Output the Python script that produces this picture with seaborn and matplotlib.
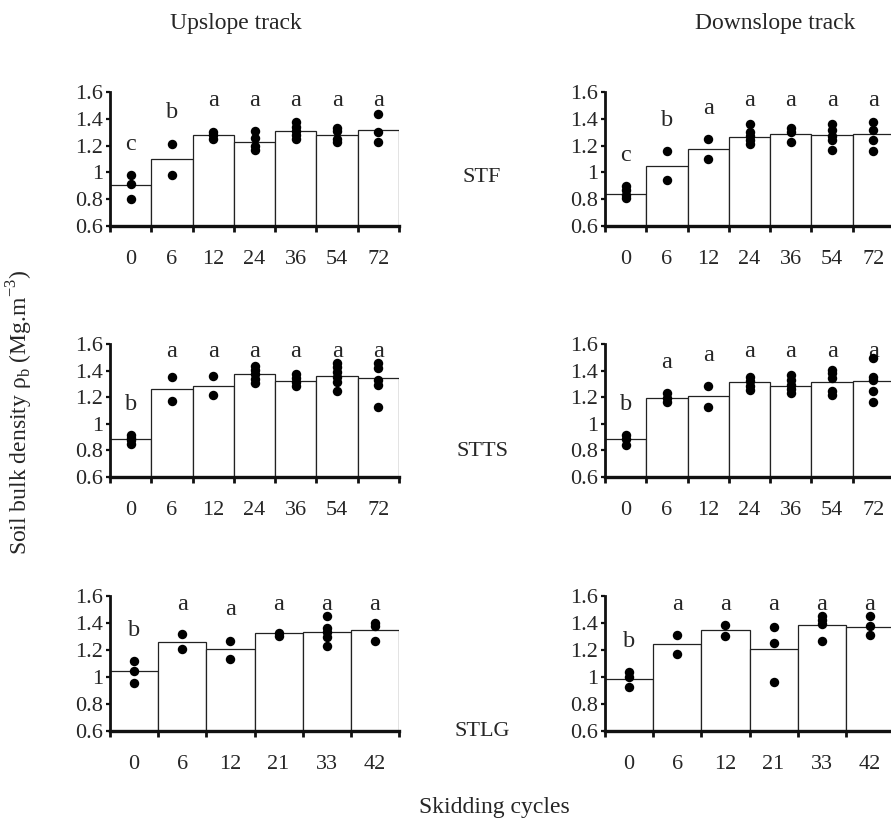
import matplotlib
matplotlib.use('Agg')
import matplotlib.pyplot as plt
import matplotlib.ticker as mticker
import numpy as np
import pandas as pd
import seaborn as sns

sns.set_style('ticks')
plt.rcParams['font.family'] = ['Liberation Serif', 'DejaVu Serif']
plt.rcParams['mathtext.fontset'] = 'custom'
plt.rcParams['mathtext.rm'] = 'Liberation Serif'

# skidding cycles (x categories)
cycles_a = ['0', '6', '12', '24', '36', '54', '72']
cycles_b = ['0', '6', '12', '21', '33', '42']

# STF, upslope
stf_up_bar = [0.905, 1.10, 1.28, 1.23, 1.31, 1.28, 1.32]
stf_up_pts = [[0.98, 0.915, 0.80], [1.215, 0.98], [1.305, 1.28, 1.25],
              [1.31, 1.255, 1.20, 1.17], [1.375, 1.34, 1.31, 1.28, 1.25],
              [1.335, 1.31, 1.25, 1.225], [1.435, 1.30, 1.225]]
stf_up_let = ['c', 'b', 'a', 'a', 'a', 'a', 'a']

# STF, downslope
stf_dn_bar = [0.84, 1.045, 1.175, 1.265, 1.29, 1.28, 1.29]
stf_dn_pts = [[0.895, 0.865, 0.835, 0.81], [1.16, 0.945], [1.25, 1.10],
              [1.36, 1.305, 1.27, 1.24, 1.21], [1.335, 1.305, 1.225],
              [1.36, 1.32, 1.27, 1.245, 1.17], [1.375, 1.32, 1.24, 1.16]]
stf_dn_let = ['c', 'b', 'a', 'a', 'a', 'a', 'a']

# STTS, upslope
stts_up_bar = [0.884, 1.258, 1.283, 1.374, 1.324, 1.361, 1.344]
stts_up_pts = [[0.915, 0.895, 0.875, 0.85], [1.349, 1.175], [1.361, 1.218],
               [1.437, 1.404, 1.371, 1.336, 1.306], [1.371, 1.344, 1.316, 1.281],
               [1.454, 1.424, 1.391, 1.349, 1.314, 1.243],
               [1.454, 1.417, 1.329, 1.288, 1.123]]
stts_up_let = ['b', 'a', 'a', 'a', 'a', 'a', 'a']

# STTS, downslope
stts_dn_bar = [0.884, 1.193, 1.206, 1.311, 1.283, 1.311, 1.321]
stts_dn_pts = [[0.914, 0.884, 0.839], [1.228, 1.196, 1.165], [1.283, 1.128],
               [1.354, 1.321, 1.286, 1.253], [1.366, 1.329, 1.291, 1.258, 1.228],
               [1.404, 1.379, 1.346, 1.246, 1.213],
               [1.492, 1.354, 1.329, 1.248, 1.165]]
stts_dn_let = ['b', 'a', 'a', 'a', 'a', 'a', 'a']

# STLG, upslope
stlg_up_bar = [1.046, 1.26, 1.208, 1.324, 1.334, 1.349]
stlg_up_pts = [[1.117, 1.043, 0.952], [1.322, 1.206], [1.27, 1.132],
               [1.327, 1.302], [1.45, 1.36, 1.33, 1.30, 1.233],
               [1.40, 1.378, 1.27]]
stlg_up_let = ['b', 'a', 'a', 'a', 'a', 'a']

# STLG, downslope
stlg_dn_bar = [0.982, 1.245, 1.346, 1.208, 1.388, 1.373]
stlg_dn_pts = [[1.036, 1.001, 0.928], [1.309, 1.169], [1.388, 1.307],
               [1.371, 1.255, 0.965], [1.455, 1.425, 1.396, 1.27],
               [1.45, 1.376, 1.309]]
stlg_dn_let = ['b', 'a', 'a', 'a', 'a', 'a']

panels = [
    ('STF', cycles_a, stf_up_bar, stf_up_pts, stf_up_let, stf_dn_bar, stf_dn_pts, stf_dn_let),
    ('STTS', cycles_a, stts_up_bar, stts_up_pts, stts_up_let, stts_dn_bar, stts_dn_pts, stts_dn_let),
    ('STLG', cycles_b, stlg_up_bar, stlg_up_pts, stlg_up_let, stlg_dn_bar, stlg_dn_pts, stlg_dn_let),
]

FS = 16
W, H = 891, 818
fig = plt.figure(figsize=(W / 100, H / 100), dpi=100)

col_x = [110, 605]
row_y = [(92, 226), (344, 477), (596, 731)]
label_y = [178, 452, 732]
ax_w = 289


def draw(ax, cats, bars, pts, letters):
    n = len(cats)
    sns.barplot(x=cats, y=bars, order=cats, width=1.0, color='white', saturation=1,
                edgecolor='#222222', linewidth=0.9, errorbar=None, ax=ax)
    df = pd.DataFrame([(c, v) for c, vals in zip(cats, pts) for v in vals],
                      columns=['cycle', 'rho'])
    sns.stripplot(data=df, x='cycle', y='rho', order=cats, jitter=False,
                  color='black', size=6.8, linewidth=0, ax=ax, zorder=5)
    for i, (vals, let) in enumerate(zip(pts, letters)):
        ax.text(i, min(max(vals) + 0.23, 1.54), let, ha='center', va='center',
                fontsize=FS + 1.5, clip_on=False)
    ax.set_xlim(-0.5, n - 0.5)
    ax.set_ylim(0.6, 1.6)
    ax.set_yticks([0.6, 0.8, 1.0, 1.2, 1.4, 1.6])
    ax.yaxis.set_major_formatter(mticker.FormatStrFormatter('%g'))
    ax.set_xticks(np.arange(n))
    ax.set_xticklabels(cats)
    ax.set_xticks(np.arange(-0.5, n), minor=True)
    ax.tick_params(axis='x', which='major', length=0, pad=17, labelsize=FS)
    ax.tick_params(axis='x', which='minor', length=4.5, width=2, direction='out', color='#111111')
    ax.tick_params(axis='y', length=3, width=1.6, pad=2, labelsize=FS, color='#111111')
    ax.set_xlabel('')
    ax.set_ylabel('')
    sns.despine(ax=ax)
    ax.spines['left'].set_linewidth(2.0)
    ax.spines['bottom'].set_linewidth(2.4)
    ax.spines['left'].set_color('#111111')
    ax.spines['bottom'].set_color('#111111')
    ax.set_facecolor('white')


for r, (name, cats, ub, up, ul, db, dp, dl) in enumerate(panels):
    top, bot = row_y[r]
    for c, (bars, pts, lets) in enumerate([(ub, up, ul), (db, dp, dl)]):
        ax = fig.add_axes([col_x[c] / W, 1 - bot / H, ax_w / W, (bot - top) / H])
        draw(ax, cats, bars, pts, lets)
    fig.text(482 / W, 1 - label_y[r] / H, name, ha='center', va='center', fontsize=FS)

fig.text(236 / W, 1 - 23 / H, 'Upslope track', ha='center', va='center', fontsize=FS + 1)
fig.text(775 / W, 1 - 23 / H, 'Downslope track', ha='center', va='center', fontsize=FS + 1)
fig.text(494 / W, 1 - 807 / H, 'Skidding cycles', ha='center', va='center', fontsize=FS + 1)
fig.text(20 / W, 1 - 412 / H, r'Soil bulk density ρ$_\mathregular{b}$ (Mg.m$^\mathregular{-3}$)',
         ha='center', va='center', rotation=90, fontsize=FS + 1)

fig.savefig('out.png', dpi=100, facecolor='white')
